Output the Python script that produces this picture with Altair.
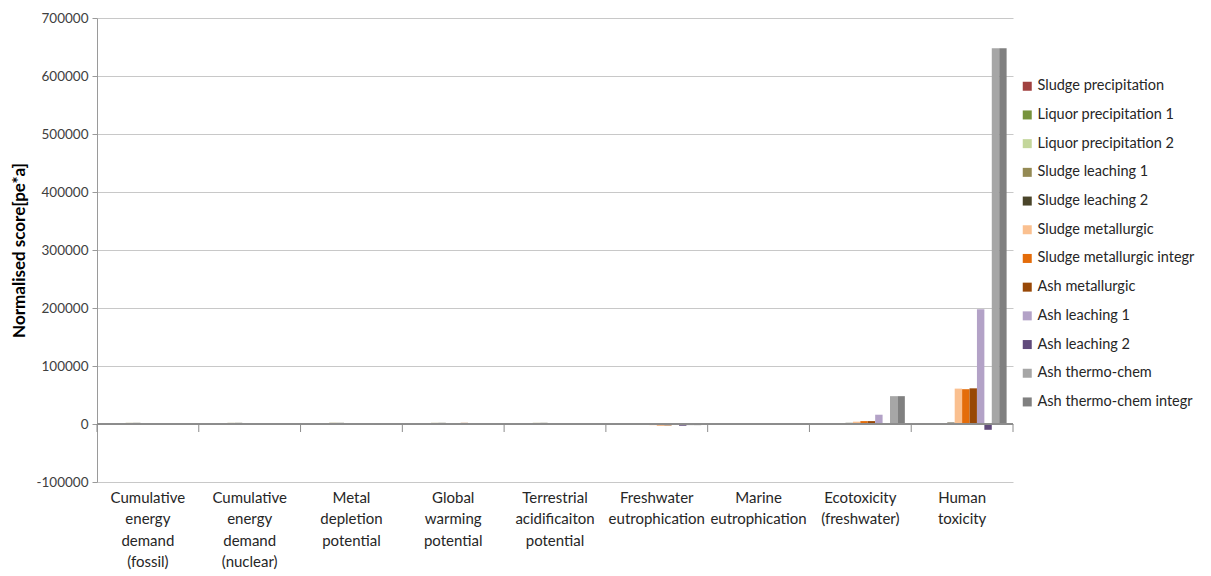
import altair as alt
import pandas as pd

categories = [
    "Cumulative energy demand (fossil)",
    "Cumulative energy demand (nuclear)",
    "Metal depletion potential",
    "Global warming potential",
    "Terrestrial acidificaiton potential",
    "Freshwater eutrophication",
    "Marine eutrophication",
    "Ecotoxicity (freshwater)",
    "Human toxicity",
]

series = [
    "Sludge precipitation",
    "Liquor precipitation 1",
    "Liquor precipitation 2",
    "Sludge leaching 1",
    "Sludge leaching 2",
    "Sludge metallurgic",
    "Sludge metallurgic integr",
    "Ash metallurgic",
    "Ash leaching 1",
    "Ash leaching 2",
    "Ash thermo-chem",
    "Ash thermo-chem integr",
]

colors = ["#A0413F", "#77933C", "#C3D69B", "#948A54", "#4A452A", "#FAC090",
          "#E46C0A", "#984807", "#B3A2C7", "#604A7B", "#A6A6A6", "#808080"]

values = [
    [300, 300, 300, 300, 300, 200, 200, 1500, 1500],
    [200, 200, 200, 200, 200, 100, 100, 200, 200],
    [1200, 1200, 1200, 1200, 1200, -800, 100, 300, 300],
    [2000, 2000, 2000, 2000, 2000, -1000, 200, 1500, -1000],
    [2000, 2000, 2000, 2000, 2000, -500, 200, 2000, 2500],
    [1500, 200, 200, 1500, 200, -2000, 200, 4000, 61000],
    [300, 200, 200, 1000, 200, -2500, 200, 5000, 60000],
    [300, 200, 200, 2000, 200, -2500, 200, 5000, 61500],
    [1500, 1500, 200, 1500, 200, 300, 1000, 16000, 198000],
    [100, 100, -1500, 100, 100, -3000, 100, 200, -10000],
    [200, 1500, 200, 200, 200, -2000, 200, 48000, 648000],
    [200, 1500, 200, 200, 200, -2000, 200, 48000, 648000],
]

rows = []
for s, vals in zip(series, values):
    for c, v in zip(categories, vals):
        rows.append({"category": c, "series": s, "value": v})
df = pd.DataFrame(rows)

FONT = "Lato"

xscale = alt.Scale(domain=categories, paddingInner=0, paddingOuter=0)
yscale = alt.Scale(domain=[-100000, 700000], nice=False, zero=False)

bars = alt.Chart(df).mark_bar(strokeWidth=0).encode(
    x=alt.X("category:N", scale=xscale, sort=categories,
            axis=alt.Axis(title=None, labelAngle=0, domain=False, ticks=False,
                          labelExpr="split(datum.label, ' ')",
                          labelLineHeight=21.5, labelFontSize=15,
                          labelColor="#262626", labelPadding=8,
                          labelFont=FONT, labelBaseline="top")),
    xOffset=alt.XOffset("series:N", sort=series,
                        scale=alt.Scale(domain=series, paddingInner=0, paddingOuter=0.86)),
    y=alt.Y("value:Q", scale=yscale,
            axis=alt.Axis(title="Normalised score[pe*a]", values=list(range(-100000, 700001, 100000)),
                          format="d", labelExpr="replace(datum.label, '\u2212', '-')",
                          labelFontSize=13.5, labelColor="#404040",
                          labelFont=FONT, titleFont=FONT, titleFontSize=17,
                          titleFontWeight="bold", titleColor="#000000",
                          grid=True, gridColor="#C8C8C8", domainColor="#9A9A9A",
                          tickColor="#9A9A9A", tickSize=5, labelPadding=4,
                          titlePadding=8)),
    color=alt.Color("series:N", sort=series,
                    scale=alt.Scale(domain=series, range=colors),
                    legend=alt.Legend(title=None, orient="none", legendX=923, legendY=61,
                                      symbolType="square", symbolSize=81,
                                      symbolStrokeWidth=0, labelFont=FONT,
                                      labelFontSize=14.5, labelColor="#262626",
                                      labelLimit=400,
                                      rowPadding=13.7, labelOffset=3)),
)

zero_line = alt.Chart(df).mark_rule(color="#8C8C8C", strokeWidth=1).encode(
    y=alt.datum(0)
)

tick_len = -13800  # category-axis tick marks hang ~8px below the zero line
ticks_df = pd.DataFrame({"category": categories})
ticks_start = alt.Chart(ticks_df).mark_rule(color="#8C8C8C", strokeWidth=1).encode(
    x=alt.X("category:N", scale=xscale, sort=categories, bandPosition=0),
    y=alt.datum(0),
    y2=alt.datum(tick_len),
)
ticks_end = alt.Chart(ticks_df.tail(1)).mark_rule(color="#8C8C8C", strokeWidth=1).encode(
    x=alt.X("category:N", scale=xscale, sort=categories, bandPosition=1),
    y=alt.datum(0),
    y2=alt.datum(tick_len),
)

chart = alt.layer(bars, zero_line, ticks_start, ticks_end).properties(
    width=916, height=464,
    background="white",
    autosize=alt.AutoSizeParams(type="none"),
    padding={"left": 89, "top": 10, "right": 188, "bottom": 88},
).configure_view(strokeWidth=0)

chart.save("out.html", embed_options={"renderer": "svg", "actions": False})
